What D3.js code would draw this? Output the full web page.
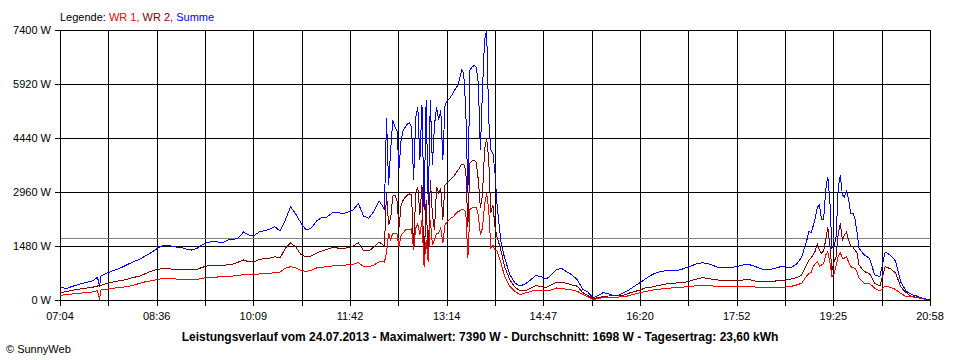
<!DOCTYPE html>
<meta charset="utf-8">
<head>
<style>
body{
	margin:0;
	background:#fff;
}
text{
	font-family:"Liberation Sans",Arial,sans-serif;
	font-size:11px;
	fill:#000;
}
.grid line{
	stroke:#000;
	stroke-width:1px;
	shape-rendering:crispEdges;
}
.avg{
	stroke:#808080;
	stroke-width:1px;
	shape-rendering:crispEdges;
}
.series{
	fill:none;
	stroke-width:1px;
	shape-rendering:crispEdges;
}
.title{
	font-weight:bold;
	font-size:12px;
	text-anchor:middle;
}
</style>
</head>
<body>
<script src="https://cdn.jsdelivr.net/npm/d3@7"></script>
<script>

var times=["07:04","07:10","07:15","07:20","07:25","07:30","07:35","07:40","07:42","07:43","07:45","07:50","07:55",
"08:00","08:05","08:10","08:15","08:20","08:25","08:30","08:35","08:40","08:45","08:50","08:55",
"09:00","09:05","09:10","09:15","09:20","09:25","09:30","09:35","09:40","09:45","09:50","09:55",
"10:00","10:05","10:10","10:15","10:20","10:25","10:30","10:35","10:40","10:45","10:50","10:55",
"11:00","11:05","11:10","11:15","11:20","11:25","11:30","11:35","11:40","11:45","11:50","11:55",
"12:00","12:05","12:10","12:15","12:17","12:19","12:21","12:23","12:25","12:27","12:29","12:31","12:33","12:35",
"12:37","12:39","12:41","12:43","12:45","12:47","12:49","12:51","12:53","12:55","12:57","12:59",
"13:01","13:03","13:05","13:07","13:09","13:11","13:13","13:15","13:17","13:19","13:21","13:23","13:25","13:27","13:29",
"13:31","13:33","13:35","13:37","13:39","13:41","13:43","13:45","13:47","13:49","13:51","13:53","13:55","13:57","13:59",
"14:01","14:03","14:05","14:07","14:10","14:15","14:20","14:25","14:30","14:35","14:40","14:45","14:50","14:55",
"15:00","15:05","15:10","15:15","15:20","15:25","15:30","15:35","15:40","15:45","15:50","15:55",
"16:00","16:05","16:10","16:15","16:20","16:25","16:30","16:35","16:40","16:45","16:50","16:55",
"17:00","17:05","17:10","17:15","17:20","17:25","17:30","17:35","17:40","17:45","17:50","17:55",
"18:00","18:05","18:10","18:15","18:20","18:25","18:30","18:35","18:40","18:45","18:50","18:55",
"19:00","19:02","19:04","19:06","19:08","19:10","19:12","19:14","19:16","19:18","19:20","19:22","19:24","19:26","19:28",
"19:30","19:32","19:34","19:36","19:38","19:40","19:42","19:44","19:46","19:48","19:50","19:55",
"20:00","20:05","20:10","20:15","20:20","20:25","20:30","20:35","20:40","20:45","20:50","20:55","20:58"];

// WR 1
var wr1=[129,145,164,178,192,200,219,255,0,274,282,301,321,
343,356,375,411,452,493,521,548,576,595,584,576,
567,556,548,562,589,617,622,630,639,650,658,671,
704,685,693,713,721,732,748,767,869,913,877,814,
781,817,877,896,913,932,946,951,965,978,1022,918,
904,959,1050,1041,1288,1836,1644,1836,1836,1809,1461,1781,1836,1918,
1932,1938,1946,1370,1973,2083,1781,2193,913,1644,1041,2193,
1507,1644,1836,1836,1973,1562,2056,2138,2193,2247,2283,2357,2412,2439,2486,
2486,2412,1143,2486,2521,2549,2535,2330,1781,1973,2604,2924,2467,1425,1507,
1370,1343,1165,987,671,384,233,151,192,233,274,260,247,274,
329,315,293,274,238,151,90,14,41,69,74,74,
82,88,123,164,200,233,260,288,301,321,329,343,
348,365,378,392,403,395,384,375,370,365,365,370,
378,378,356,343,337,343,348,348,356,375,411,458,
671,721,754,913,1000,1050,932,959,1006,1233,1324,1041,639,713,932,
1206,1297,1151,1151,1187,1041,913,891,869,767,595,458,
458,321,247,384,348,288,178,96,90,69,41,8,0];

// WR 2
var wr2=[205,227,260,288,310,329,348,384,397,403,419,458,493,
521,548,584,622,652,713,773,822,850,858,850,841,
841,830,822,836,891,932,932,932,932,973,987,1041,
1096,1047,1041,1110,1132,1151,1187,1151,1417,1562,1453,1247,
1178,1206,1288,1343,1390,1439,1425,1411,1433,1480,1570,1357,
1343,1453,1590,1480,2933,2056,2247,2850,2878,2741,2001,2604,2741,2823,
2878,2905,2878,1370,2933,3097,2330,3152,913,2741,1096,3289,
2330,1918,3097,2933,3070,2193,3152,3207,3261,3316,3379,3453,3536,3618,3727,
3727,3563,2009,3755,3810,3837,3782,3289,2521,2878,4111,4432,3837,2384,2604,
2009,1727,1535,1316,932,562,356,247,247,321,397,370,348,411,
493,493,452,411,378,206,123,41,69,96,110,110,
110,137,192,233,274,329,348,384,411,439,452,466,
474,499,540,576,611,589,567,548,534,529,529,529,
556,562,521,502,502,502,521,548,548,576,611,685,
987,1096,1151,1233,1343,1535,1370,1280,1343,1644,2009,1507,822,1041,1187,
1809,2102,1644,1781,1864,1644,1480,1453,1370,1288,959,781,
726,458,384,913,858,740,356,206,96,74,41,8,0];

// Summe
var summe=[348,315,365,411,452,485,521,620,356,658,685,748,808,
855,918,992,1055,1110,1192,1274,1370,1466,1507,1480,1453,
1439,1398,1370,1411,1507,1581,1598,1590,1570,1644,1658,1699,
1864,1781,1768,1864,1905,1938,2009,1891,2193,2549,2357,2110,
1918,1973,2165,2267,2275,2384,2398,2365,2412,2467,2645,2302,
2239,2439,2713,2494,4988,3152,4111,4933,4741,4659,3618,4385,4659,4741,
4824,4851,4741,3289,4988,5290,3837,5344,2467,5481,2604,5481,
3700,4796,5290,4933,5207,3837,5317,5454,5509,5591,5682,5783,5865,6057,6304,
6213,5207,2933,6304,6386,6427,6386,5947,4111,5755,7126,7390,4933,4111,4029,
3481,2604,2028,1535,1178,713,466,384,439,548,671,639,576,685,
836,863,767,685,548,301,219,55,123,206,164,123,
137,206,288,384,474,576,671,740,781,803,803,808,
841,896,946,1000,1022,995,946,896,885,885,904,932,
967,967,924,863,822,841,877,913,904,896,978,1178,
1644,1891,1836,2028,2247,2549,2604,2193,2193,3015,3379,2741,1425,1461,1735,
3070,3426,2878,2823,3015,2741,2384,2384,2247,1864,1417,1233,
1143,685,644,1316,1233,1069,493,247,156,110,55,19,0];

var yTicks=[0,1480,2960,4440,5920,7400];
var xTickLabels=["07:04","08:36","10:09","11:42","13:14","14:47","16:20","17:52","19:25","20:58"];
var average=1698;
var legendParts=[["Legende: ","#000000"],["WR 1, ","#ff0000"],["WR 2, ","#800000"],["Summe","#0000ff"]];
var title="Leistungsverlauf vom 24.07.2013 - Maximalwert: 7390 W - Durchschnitt: 1698 W - Tagesertrag: 23,60 kWh";

function toMin(s){ var p=s.split(":"); return +p[0]*60 + +p[1]; }
var mins=times.map(toMin);

var W=960,H=360;
var svg=d3.select("body").append("svg").attr("width",W).attr("height",H);

var x=d3.scaleLinear().domain([toMin(xTickLabels[0]),toMin(xTickLabels[xTickLabels.length-1])]).range([60,930]);
var y=d3.scaleLinear().domain([0,7400]).range([300,30]);
var px=function(v){ return Math.round(v)+0.5; };

// 18 intervals between first and last label, labels on every second one
var nGrid=(xTickLabels.length-1)*2;
var gridX=d3.range(nGrid+1).map(i=>x.domain()[0]+i*(x.domain()[1]-x.domain()[0])/nGrid);

var grid=svg.append("g").attr("class","grid");
grid.selectAll(".h").data(yTicks).enter().append("line")
	.attr("x1",55).attr("x2",930)
	.attr("y1",d=>px(y(d))).attr("y2",d=>px(y(d)));
grid.selectAll(".v").data(gridX).enter().append("line")
	.attr("x1",d=>px(x(d))).attr("x2",d=>px(x(d)))
	.attr("y1",30).attr("y2",306);

svg.append("line").attr("class","avg")
	.attr("x1",61).attr("x2",930)
	.attr("y1",px(y(average))).attr("y2",px(y(average)));

svg.selectAll(".ylab").data(yTicks).enter().append("text")
	.attr("x",51).attr("y",d=>y(d)+4)
	.style("text-anchor","end")
	.text(d=>d+" W");

svg.selectAll(".xlab").data(xTickLabels).enter().append("text")
	.attr("x",(d,i)=>x(gridX[i*2])).attr("y",320)
	.style("text-anchor","middle")
	.text(d=>d);

var line=function(vals){
	return d3.line()
		.x((d,i)=>x(mins[i]))
		.y(d=>y(d))(vals);
};

[[wr2,"#800000"],[wr1,"#ff0000"],[summe,"#0000ff"]].forEach(function(s){
	svg.append("path").attr("class","series")
		.attr("d",line(s[0]))
		.attr("stroke",s[1]);
});

var lg=svg.append("text").attr("x",60).attr("y",21);
legendParts.forEach(function(p){
	lg.append("tspan").style("fill",p[1]).text(p[0]);
});

svg.append("text").attr("class","title").attr("x",480).attr("y",341).text(title);
svg.append("text").attr("x",6).attr("y",353).text("\u00a9 SunnyWeb");

</script>
</body>
</html>
